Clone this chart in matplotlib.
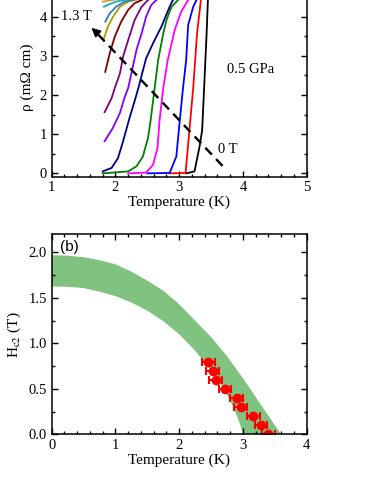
import matplotlib
matplotlib.use('Agg')
import matplotlib.pyplot as plt
from matplotlib.ticker import MultipleLocator, FormatStrFormatter

plt.rcParams['font.family'] = ['Liberation Serif', 'DejaVu Serif']
plt.rcParams['mathtext.fontset'] = 'stix'
plt.rcParams['font.size'] = 10.5

# (a) resistivity curves at 0.5 GPa, fields 0 .. 1.2 T
T_00 = [3.11, 3.24, 3.32, 3.36, 3.39, 3.43, 3.45, 3.5]
r_00 = [0.0, 0.05, 0.69, 1.1, 2.15, 3.57, 4.42, 4.55]
T_01 = [2.85, 3.10, 3.22, 3.28, 3.34, 3.4]
r_01 = [0.0, 0.01, 2.18, 3.57, 4.42, 4.55]
T_02 = [2.5, 2.85, 2.955, 3.0, 3.06, 3.11, 3.14, 3.22, 3.27, 3.35]
r_02 = [0.0, 0.01, 0.43, 1.2, 2.18, 2.9, 3.78, 4.25, 4.42, 4.55]
T_03 = [2.2, 2.48, 2.59, 2.66, 2.69, 2.75, 2.82, 2.93, 3.03, 3.14, 3.25]
r_03 = [0.0, 0.02, 0.22, 0.65, 1.33, 2.18, 2.89, 3.66, 4.12, 4.42, 4.55]
T_04 = [1.8, 2.2, 2.33, 2.43, 2.51, 2.55, 2.615, 2.67, 2.75, 2.8, 2.88, 2.98, 3.1]
r_04 = [0.0, 0.05, 0.18, 0.43, 0.9, 1.33, 2.18, 2.89, 3.57, 3.91, 4.25, 4.42, 4.55]
T_05 = [1.8, 1.94, 2.04, 2.12, 2.22, 2.3, 2.36, 2.48, 2.59, 2.72, 2.85, 2.9, 3.0]
r_05 = [0.05, 0.14, 0.39, 0.82, 1.41, 1.84, 2.18, 2.93, 3.32, 3.74, 4.25, 4.42, 4.55]
T_06 = [1.83, 1.96, 2.07, 2.14, 2.2, 2.25, 2.33, 2.41, 2.48, 2.56, 2.64, 2.75]
r_06 = [0.82, 1.16, 1.54, 1.92, 2.18, 2.55, 3.15, 3.57, 3.99, 4.29, 4.42, 4.55]
T_07 = [1.83, 1.94, 1.99, 2.07, 2.12, 2.2, 2.3, 2.41, 2.51, 2.6]
r_07 = [1.56, 1.92, 2.18, 2.55, 2.98, 3.4, 3.91, 4.25, 4.42, 4.55]
T_08 = [1.84, 1.91, 1.99, 2.09, 2.2, 2.3, 2.41, 2.5]
r_08 = [2.59, 3.06, 3.49, 3.87, 4.17, 4.34, 4.42, 4.5]
T_09 = [1.82, 1.88, 1.96, 2.07, 2.2, 2.3, 2.4]
r_09 = [3.44, 3.74, 3.99, 4.25, 4.38, 4.42, 4.46]
T_10 = [1.84, 1.91, 2.01, 2.14, 2.25, 2.35]
r_10 = [3.87, 4.08, 4.25, 4.38, 4.42, 4.46]
T_11 = [1.82, 1.91, 2.01, 2.12, 2.25]
r_11 = [4.25, 4.32, 4.38, 4.42, 4.46]
T_12 = [1.80, 1.94, 2.1]
r_12 = [4.38, 4.42, 4.46]

curves_T = [T_00, T_01, T_02, T_03, T_04, T_05, T_06, T_07, T_08, T_09, T_10, T_11, T_12]
curves_r = [r_00, r_01, r_02, r_03, r_04, r_05, r_06, r_07, r_08, r_09, r_10, r_11, r_12]
colors = ['black', '#ff0000', '#0000ff', '#ff00ff', '#008000', '#000080', '#8000ff',
          '#800080', '#800000', '#a0a000', '#3078c0', '#20a8b8', '#d09a40']

# (b) Hc2 band edges and data points
band_up_T = [0.0, 0.25, 0.5, 0.75, 1.0, 1.25, 1.5, 1.75, 2.0, 2.25, 2.5, 2.75,
             3.0, 3.1, 3.2, 3.3, 3.4, 3.5, 3.6]
band_up_H = [1.97, 1.965, 1.948, 1.915, 1.87, 1.79, 1.69, 1.58, 1.43, 1.25, 1.07, 0.86,
             0.615, 0.515, 0.41, 0.305, 0.205, 0.10, 0.0]
band_lo_T = [0.0, 0.25, 0.5, 0.75, 1.0, 1.25, 1.5, 1.75, 2.0, 2.25, 2.5, 2.7,
             2.85, 2.95, 3.0]
band_lo_H = [1.627, 1.622, 1.609, 1.57, 1.52, 1.45, 1.36, 1.245, 1.10, 0.92, 0.70, 0.50,
             0.30, 0.12, 0.0]
pts_T = [2.457, 2.525, 2.572, 2.718, 2.902, 2.964, 3.163, 3.283, 3.398]
pts_H = [0.8, 0.7, 0.6, 0.5, 0.4, 0.3, 0.2, 0.1, 0.0]
pts_err = 0.1

fig = plt.figure(figsize=(3.74, 4.84), dpi=100)
W, H = 374, 484


def style(ax):
    ax.tick_params(which='both', direction='in', top=True, right=True, width=1.0)
    ax.tick_params(which='major', length=4)
    ax.tick_params(which='minor', length=2.5)
    for s in ax.spines.values():
        s.set_linewidth(1.1)


# top panel (cut off at the top of the figure)
ax1 = fig.add_axes([51.7 / W, 1 - 176.5 / H, 255 / W, 5.08 * 39.2 / H])
for Tc, rc, c in zip(curves_T, curves_r, colors):
    ax1.plot(Tc, rc, color=c, lw=1.3)
ax1.set_xlim(1, 5)
ax1.set_ylim(-0.08, 5)
ax1.xaxis.set_major_locator(MultipleLocator(1))
ax1.xaxis.set_minor_locator(MultipleLocator(0.2))
ax1.set_yticks([0, 1, 2, 3, 4])
ax1.yaxis.set_minor_locator(MultipleLocator(0.5))
style(ax1)
ax1.set_xlabel('Temperature (K)', fontsize=11, labelpad=1)
ax1.set_ylabel('ρ (mΩ cm)', fontsize=11, labelpad=4)
ax1.plot([3.68, 1.66], [0.19, 3.66], color='black', lw=1.7, ls=(0, (4, 2.6)))
ax1.annotate('', xy=(1.59, 3.76), xytext=(1.70, 3.60),
             arrowprops=dict(arrowstyle='-|>', color='black', lw=1.2, mutation_scale=13))
ax1.text(1.15, 4.0, '1.3 T', fontsize=10.5, va='center')
ax1.text(3.61, 0.61, '0 T', fontsize=10.5, va='center')
ax1.text(3.75, 2.64, '0.5 GPa', fontsize=10.5, va='center')

# bottom panel
ax2 = fig.add_axes([51.7 / W, 1 - 434.3 / H, 255 / W, 200 / H])
ax2.fill(band_up_T + band_lo_T[::-1], band_up_H + band_lo_H[::-1],
         color='#80c280', lw=0)
ax2.errorbar(pts_T, pts_H, xerr=pts_err, fmt='o', color='#ff0000', ms=6,
             elinewidth=1.5, capsize=3, capthick=1.5)
ax2.set_xlim(0, 4)
ax2.set_ylim(0, 2.2)
ax2.xaxis.set_major_locator(MultipleLocator(1))
ax2.xaxis.set_minor_locator(MultipleLocator(0.2))
ax2.yaxis.set_major_locator(MultipleLocator(0.5))
ax2.yaxis.set_minor_locator(MultipleLocator(0.25))
ax2.yaxis.set_major_formatter(FormatStrFormatter('%.1f'))
style(ax2)
ax2.set_xlabel('Temperature (K)', fontsize=11, labelpad=1)
ax2.set_ylabel(r'H$_{\mathrm{c2}}$ (T)', fontsize=11, labelpad=4)
ax2.text(0.13, 2.06, '(b)', fontsize=11, family=['Liberation Sans', 'DejaVu Sans'],
         va='center')

fig.savefig('out.png', dpi=100)
